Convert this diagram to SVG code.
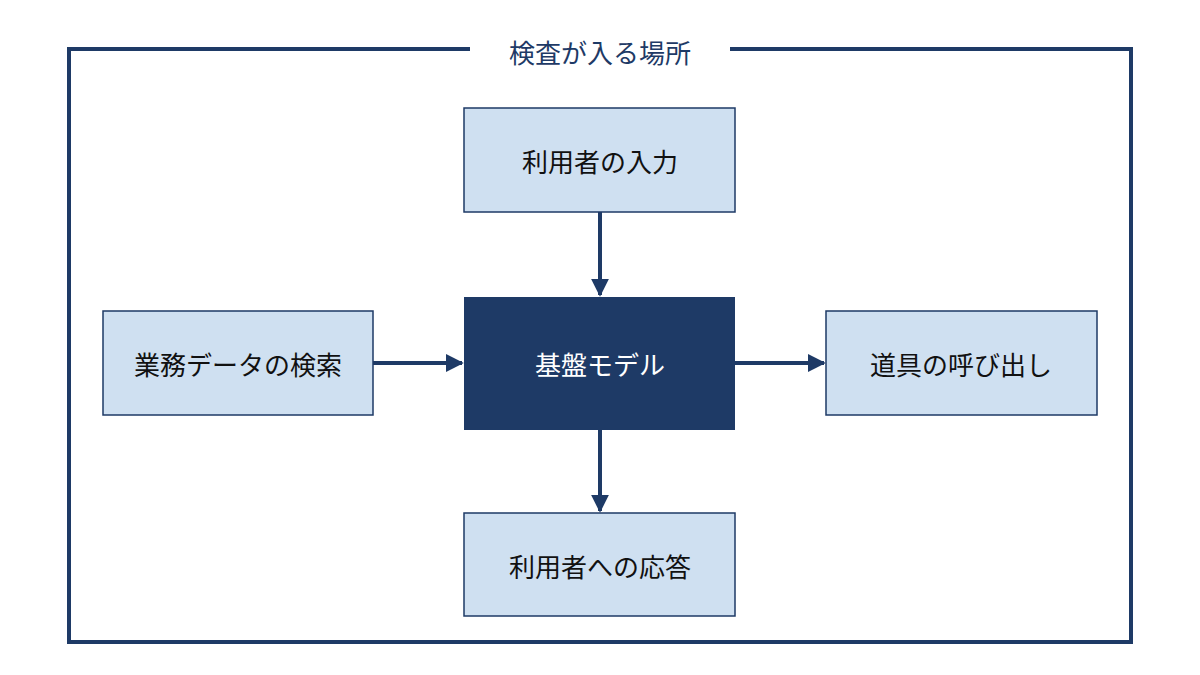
<svg xmlns="http://www.w3.org/2000/svg" width="1200" height="675" viewBox="0 0 1200 675">
<style>
.box{fill:#cfe0f1;stroke:#1e3a66;stroke-width:1.5}
.t{font-family:"Noto Sans CJK JP","Noto Sans",sans-serif;font-size:26px;fill:#111;text-anchor:middle;dominant-baseline:central}
.c{stroke:#1e3a66;stroke-width:4;fill:none;marker-end:url(#a)}
</style>
<defs><marker id="a" viewBox="0 0 10 10" refX="9" refY="5" markerWidth="4.5" markerHeight="4.5" orient="auto" markerUnits="strokeWidth"><path d="M0,0L10,5L0,10z" fill="#1e3a66"/></marker></defs>
<rect width="1200" height="675" fill="#fff"/>
<path d="M470,49H69V642H1131V49H730" fill="none" stroke="#1e3a66" stroke-width="4"/>
<text class="t" x="600" y="51" style="fill:#1e3a66">検査が入る場所</text>
<g id="n-input"><rect class="box" x="464" y="108" width="271" height="104"/><text class="t" x="600" y="160">利用者の入力</text></g>
<g id="n-model"><rect x="464" y="297" width="271" height="133" fill="#1e3a66"/><text class="t" x="600" y="363" style="fill:#fff">基盤モデル</text></g>
<g id="n-search"><rect class="box" x="103" y="311" width="270" height="104"/><text class="t" x="238" y="363">業務データの検索</text></g>
<g id="n-tool"><rect class="box" x="826" y="311" width="271" height="104"/><text class="t" x="961" y="363">道具の呼び出し</text></g>
<g id="n-resp"><rect class="box" x="464" y="513" width="271" height="103"/><text class="t" x="600" y="565">利用者への応答</text></g>
<g id="connectors">
<path class="c" d="M600,212V295"/>
<path class="c" d="M600,430V511"/>
<path class="c" d="M373,363H462"/>
<path class="c" d="M735,363H824"/>
</g>
</svg>
